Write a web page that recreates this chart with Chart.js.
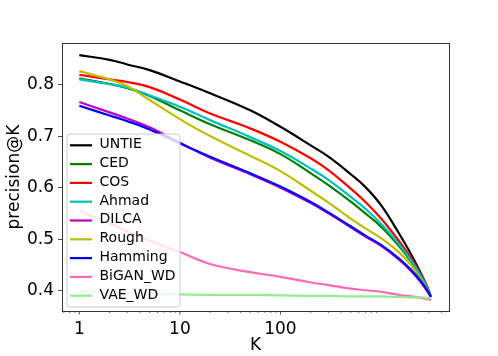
<!DOCTYPE html>
<html lang="en">
<head>
  <meta charset="UTF-8" />
  <title>precision@K</title>
  <script src="https://cdn.jsdelivr.net/npm/chart.js"></script>
  <style>
    body { margin: 0; background: #fff; }
    #wrap { width: 498px; height: 356px; }
  </style>
</head>
<body>
  <div id="wrap"><canvas id="grafico" width="498" height="356"></canvas></div>

  <script>
    // K values (x axis, log scale)
    const kValues = [1, 2, 3, 5, 10, 20, 50, 100, 200, 300, 500, 700, 1000, 1500, 2000, 2500, 2900, 3141];

    // precision@K per method
    const untie   = [0.857, 0.848, 0.839, 0.828, 0.806, 0.783, 0.750, 0.718, 0.682, 0.660, 0.626, 0.601, 0.566, 0.512, 0.470, 0.433, 0.406, 0.388];
    const ced     = [0.812, 0.801, 0.793, 0.778, 0.750, 0.723, 0.692, 0.665, 0.628, 0.605, 0.573, 0.550, 0.524, 0.487, 0.456, 0.427, 0.403, 0.388];
    const cos     = [0.819, 0.810, 0.805, 0.795, 0.771, 0.744, 0.715, 0.689, 0.657, 0.634, 0.598, 0.572, 0.540, 0.497, 0.462, 0.431, 0.406, 0.388];
    const ahmad   = [0.810, 0.801, 0.794, 0.779, 0.757, 0.731, 0.698, 0.671, 0.637, 0.615, 0.582, 0.559, 0.530, 0.491, 0.458, 0.428, 0.404, 0.388];
    const dilca   = [0.766, 0.746, 0.734, 0.717, 0.687, 0.658, 0.626, 0.600, 0.570, 0.550, 0.523, 0.505, 0.487, 0.461, 0.438, 0.416, 0.398, 0.388];
    const rough   = [0.826, 0.810, 0.797, 0.770, 0.733, 0.700, 0.662, 0.632, 0.594, 0.571, 0.540, 0.521, 0.502, 0.475, 0.449, 0.421, 0.401, 0.388];
    const hamming = [0.759, 0.740, 0.729, 0.713, 0.686, 0.660, 0.628, 0.602, 0.572, 0.552, 0.525, 0.507, 0.489, 0.463, 0.440, 0.418, 0.400, 0.388];
    const bigan   = [0.555, 0.530, 0.515, 0.497, 0.475, 0.452, 0.436, 0.427, 0.416, 0.411, 0.404, 0.401, 0.398, 0.392, 0.389, 0.386, 0.384, 0.382];
    const vae     = [0.400, 0.397, 0.396, 0.394, 0.393, 0.392, 0.392, 0.391, 0.390, 0.390, 0.389, 0.389, 0.389, 0.388, 0.387, 0.387, 0.386, 0.386];

    const seriesNames  = ['UNTIE', 'CED', 'COS', 'Ahmad', 'DILCA', 'Rough', 'Hamming', 'BiGAN_WD', 'VAE_WD'];
    const seriesValues = [untie, ced, cos, ahmad, dilca, rough, hamming, bigan, vae];
    const seriesColors = ['#000000', '#008000', '#ff0000', '#00bfbf', '#bf00bf', '#bfbf00', '#0000ff', '#ff69b4', '#90ee90'];

    // ticks
    const xMajorTicks = [1, 10, 100];
    const xMinorTicks = [0.7, 0.8, 0.9, 2, 3, 4, 5, 6, 7, 8, 9, 20, 30, 40, 50, 60, 70, 80, 90,
                         200, 300, 400, 500, 600, 700, 800, 900, 2000, 3000, 4000];
    const yTicks = [0.4, 0.5, 0.6, 0.7, 0.8];

    const FONT = 'DejaVu Sans';

    const datasets = seriesNames.map((nome, i) => ({
      label: nome,
      data: kValues.map((k, j) => ({ x: k, y: seriesValues[i][j] })),
      borderColor: seriesColors[i],
      backgroundColor: seriesColors[i],
      borderWidth: 2.2,
      pointRadius: 0,
      fill: false,
      tension: 0.4,
      borderJoinStyle: 'round',
      order: seriesNames.length - i   // later series on top, like matplotlib
    }));

    // legend box + frame + x tick marks
    const molduraPlugin = {
      id: 'moldura',
      afterDatasetsDraw(chart) {
        const ctx = chart.ctx;
        const bx = 67, by = 134, bw = 113, bh = 173, r = 3;
        ctx.save();
        ctx.beginPath();
        ctx.moveTo(bx + r, by);
        ctx.arcTo(bx + bw, by, bx + bw, by + bh, r);
        ctx.arcTo(bx + bw, by + bh, bx, by + bh, r);
        ctx.arcTo(bx, by + bh, bx, by, r);
        ctx.arcTo(bx, by, bx + bw, by, r);
        ctx.closePath();
        ctx.fillStyle = 'rgba(255,255,255,0.8)';
        ctx.fill();
        ctx.strokeStyle = '#cccccc';
        ctx.lineWidth = 1;
        ctx.stroke();

        ctx.font = '14px "' + FONT + '"';
        ctx.textBaseline = 'middle';
        ctx.fillStyle = '#000';
        chart.data.datasets.forEach((ds, i) => {
          const y = 144.5 + i * 18.8;
          ctx.strokeStyle = ds.borderColor;
          ctx.lineWidth = 2.2;
          ctx.beginPath();
          ctx.moveTo(70, y + 0.8);
          ctx.lineTo(92, y + 0.8);
          ctx.stroke();
          ctx.fillText(ds.label, 99.5, y);
        });
        ctx.restore();
      },
      afterDraw(chart) {
        const ctx = chart.ctx;
        const a = chart.chartArea;
        const x = chart.scales.x;
        ctx.save();
        ctx.strokeStyle = '#222';
        x.ticks.forEach(t => {
          const px = x.getPixelForValue(t.value);
          const major = xMajorTicks.includes(t.value);
          ctx.lineWidth = major ? 0.8 : 0.6;
          ctx.beginPath();
          ctx.moveTo(px, a.bottom);
          ctx.lineTo(px, a.bottom + (major ? 3.5 : 2));
          ctx.stroke();
        });
        ctx.strokeStyle = '#333';
        ctx.lineWidth = 1;
        ctx.strokeRect(Math.round(a.left) + 0.5, Math.round(a.top) + 0.5,
                       Math.round(a.right - a.left), Math.round(a.bottom - a.top));
        ctx.restore();
      }
    };

    new Chart(document.getElementById('grafico'), {
      type: 'line',
      data: { datasets },
      plugins: [molduraPlugin],
      options: {
        responsive: false,
        animation: false,
        layout: { padding: { left: 0, top: 43, right: 49, bottom: 0 } },
        plugins: {
          legend: { display: false },
          tooltip: { enabled: false }
        },
        scales: {
          x: {
            type: 'logarithmic',
            min: 0.673,
            max: 4740,
            afterBuildTicks: scale => {
              scale.ticks = xMajorTicks.concat(xMinorTicks).sort((a, b) => a - b).map(v => ({ value: v }));
            },
            afterFit: scale => { scale.height = 45; },
            grid: { display: false, drawTicks: false },
            border: { display: false },
            ticks: {
              autoSkip: false,
              maxRotation: 0,
              padding: 8,
              color: '#000',
              font: { family: FONT, size: 17 },
              callback: v => xMajorTicks.includes(v) ? String(v) : ''
            },
            title: {
              display: true,
              text: 'K',
              color: '#000',
              font: { family: FONT, size: 17 },
              padding: { top: 0, bottom: 0 }
            }
          },
          y: {
            min: 0.3607,
            max: 0.8806,
            afterBuildTicks: scale => {
              scale.ticks = yTicks.map(v => ({ value: v }));
            },
            afterFit: scale => { scale.width = 62; },
            grid: { drawOnChartArea: false, tickLength: 4, color: '#222', lineWidth: 0.8 },
            border: { display: false },
            ticks: {
              padding: 4,
              color: '#000',
              font: { family: FONT, size: 17 },
              callback: v => v.toFixed(1)
            },
            title: {
              display: true,
              text: 'precision@K',
              color: '#000',
              font: { family: FONT, size: 17 },
              padding: { top: 4, bottom: 4 }
            }
          }
        }
      }
    });
  </script>
</body>
</html>
